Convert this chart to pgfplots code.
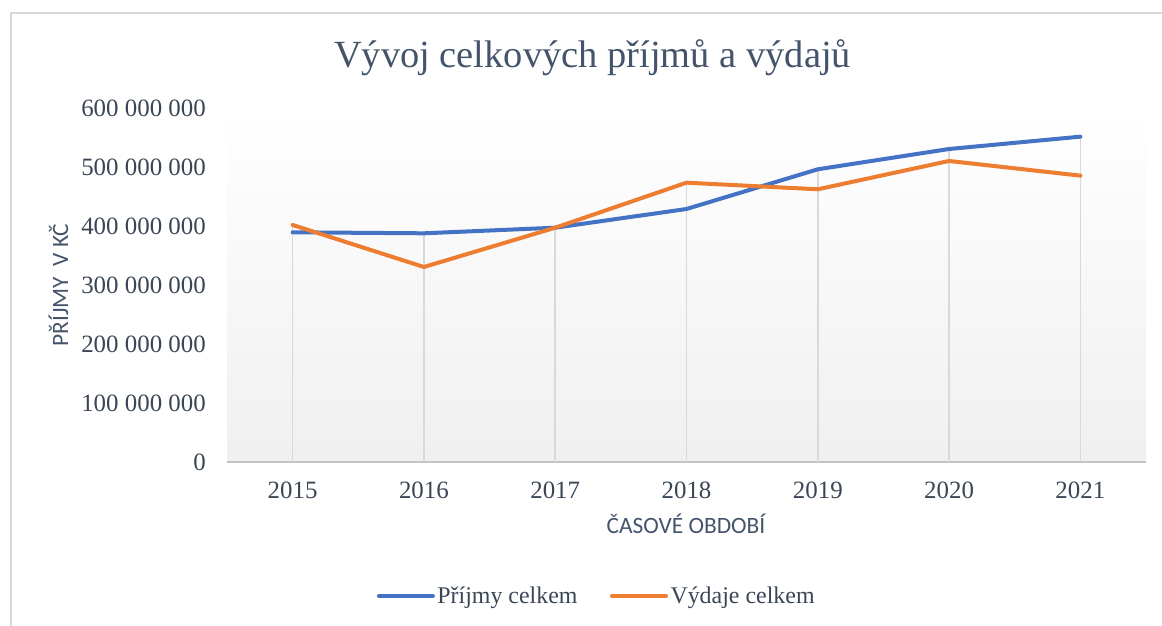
\documentclass[border=0pt]{standalone}
\usepackage{pgfplots}
\pgfplotsset{compat=1.18}
\usepackage{fontspec}
\setmainfont{Liberation Serif}
\newfontfamily\carlito{Carlito}
\definecolor{blueL}{HTML}{4472C4}
\definecolor{orangeL}{HTML}{ED7D31}
\definecolor{titleC}{HTML}{44546A}
\definecolor{tickC}{HTML}{3A4555}
\definecolor{gridC}{HTML}{D9D9D9}
\definecolor{frameC}{HTML}{D9D9D9}
\begin{document}
\begin{tikzpicture}[x=1bp,y=1bp]
\useasboundingbox (0,0) rectangle (1162,626);
\draw[frameC, line width=1.5bp] (11,0) -- (11,613) -- (1162,613);
\begin{axis}[
  at={(227bp,164bp)}, anchor=south west,
  scale only axis, width=919bp, height=354bp,
  xmin=-0.5, xmax=6.5, ymin=0, ymax=600000000,
  xtick={0,...,6}, xticklabels={2015,2016,2017,2018,2019,2020,2021},
  ytick={0,100000000,200000000,300000000,400000000,500000000,600000000},
  yticklabels={0,100 000 000,200 000 000,300 000 000,400 000 000,500 000 000,600 000 000},
  scaled y ticks=false,
  major tick length=0pt,
  /pgf/number format/assume math mode=true,
  separate axis lines,
  axis x line*=bottom, axis y line*=left,
  x axis line style={-, draw=gridC!90!black, line width=1.5bp},
  y axis line style={draw=none},
  axis background/.style={shade, top color=white, bottom color=black!6},
  xticklabel style={font=\fontsize{25}{30}\selectfont, text=tickC, anchor=north, inner sep=0pt, yshift=-20bp},
  yticklabel style={font=\fontsize{25}{30}\selectfont, text=tickC, anchor=east, inner sep=0pt, xshift=-21bp},
  legend style={at={(axis description cs:0.4026,-0.3785)}, anchor=center, draw=none, fill=none,
    font=\fontsize{24}{29}\selectfont, text=tickC, inner sep=0pt,
    /tikz/every even column/.append style={column sep=30bp},
    nodes={inner xsep=2.5bp}},
  legend columns=2,
  legend image code/.code={\draw[#1] (0bp,0bp) -- (54bp,0bp);},
]
\addplot[ycomb, draw=gridC, line width=1.5bp, mark=none, forget plot] coordinates {
 (0,401.7e6) (1,387.6e6) (2,397.1e6) (3,473.4e6) (4,496.1e6) (5,530.5e6) (6,551.4e6)};
\addplot[blueL, line width=4bp, line join=round, line cap=round] coordinates {
 (0,389.3e6) (1,387.6e6) (2,397.1e6) (3,428.8e6) (4,496.1e6) (5,530.5e6) (6,551.4e6)};
\addlegendentry{Příjmy celkem}
\addplot[orangeL, line width=4bp, line join=round, line cap=round] coordinates {
 (0,401.7e6) (1,330.5e6) (2,397.1e6) (3,473.4e6) (4,462.2e6) (5,510.2e6) (6,485.3e6)};
\addlegendentry{Výdaje celkem}
\end{axis}
\node[anchor=base, text=titleC, font=\fontsize{38.6}{44}\selectfont, inner sep=0pt] at (592.5,558) {Vývoj celkových příjmů a výdajů};
\node[anchor=base, text=titleC, font=\carlito\fontsize{23.5}{28}\selectfont, inner sep=0pt] at (686,92) {ČASOVÉ OBDOBÍ};
\node[anchor=base, rotate=90, text=titleC, font=\carlito\fontsize{23.5}{28}\selectfont, inner sep=0pt] at (68,341) {PŘÍJMY\ \ V KČ};
\end{tikzpicture}
\end{document}
